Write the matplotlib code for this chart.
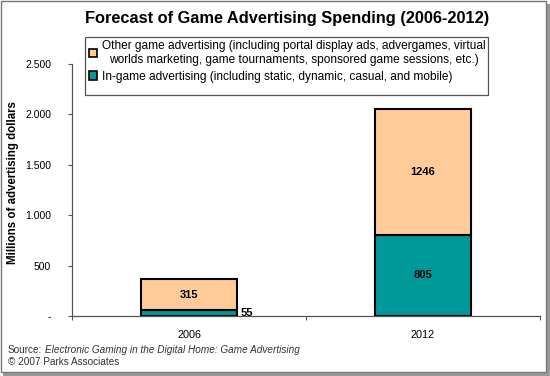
import numpy as np
import matplotlib
matplotlib.use('agg')
import matplotlib.pyplot as plt
from matplotlib.patches import Rectangle

plt.rcParams['font.family'] = ['Liberation Sans', 'DejaVu Sans']

years = ['2006', '2012']
ingame = [55, 805]
other = [315, 1246]
yticks = [0, 500, 1000, 1500, 2000, 2500]
ytick_labels = ['-', '500', '1.000', '1.500', '2.000', '2.500']
label_other = ('Other game advertising (including portal display ads, advergames, virtual\n'
               'worlds marketing, game tournaments, sponsored game sessions, etc.)')
label_ingame = 'In-game advertising (including static, dynamic, casual, and mobile)'

c_teal = '#009999'
c_orange = '#FFCC99'

fig = plt.figure(figsize=(5.5, 3.76), dpi=100)
W, H = 550, 376
ax = fig.add_axes([72 / W, 1 - 316 / H, (540 - 72) / W, (316 - 64) / H])

x = np.arange(len(years))
b1 = ax.bar(x, ingame, width=0.41, color=c_teal, edgecolor='black', linewidth=1.5)
b2 = ax.bar(x, other, width=0.41, bottom=ingame, color=c_orange, edgecolor='black', linewidth=1.5)

ax.set_xlim(-0.5, 1.5)
ax.set_ylim(0, 2500)
ax.set_yticks(yticks)
ax.set_yticklabels(ytick_labels, fontsize=7.5)
ax.set_xticks(x)
ax.set_xticklabels(years, fontsize=7.8)
ax.tick_params(axis='x', length=0, pad=10)
ax.tick_params(axis='y', length=3, width=0.8, color='#555555', pad=12)
ax.set_xticks([-0.5, 0.5, 1.5], minor=True)
ax.tick_params(axis='x', which='minor', length=3, width=0.8, color='#555555')
for s in ['top', 'right']:
    ax.spines[s].set_visible(False)
for s in ['left', 'bottom']:
    ax.spines[s].set_color('#555555')
    ax.spines[s].set_linewidth(0.9)

ax.set_ylabel('Millions of advertising dollars', fontsize=8.3, fontweight='bold')
ax.yaxis.set_label_coords((19 - 72) / 468, 0.53)

# value labels
for i in range(len(years)):
    ax.text(x[i], ingame[i] + other[i] / 2, str(other[i]), ha='center', va='center',
            fontsize=8, fontweight='bold')
ax.text(x[1], ingame[1] / 2, str(ingame[1]), ha='center', va='center',
        fontsize=8, fontweight='bold')
ax.text(x[0] + 0.22, ingame[0] / 2, str(ingame[0]), ha='left', va='center',
        fontsize=8, fontweight='bold')

# legend with its own frame
leg = fig.legend([b2, b1], [label_other, label_ingame], loc='upper left',
                 bbox_to_anchor=(86 / W, 1 - 37 / H), fontsize=8.6, frameon=False,
                 handlelength=0.7, handleheight=0.7, handletextpad=0.4,
                 labelspacing=0.4, borderpad=0.25, borderaxespad=0)
for t in leg.get_texts():
    t.set_multialignment('center')
for h in leg.legend_handles:
    h.set_linewidth(1.2)
fig.patches.append(Rectangle((85 / W, 1 - 95 / H), (488 - 85) / W, (95 - 37) / H,
                             transform=fig.transFigure, facecolor='none',
                             edgecolor='#555555', linewidth=0.9, zorder=3))

fig.text(287 / W, 1 - 18 / H, 'Forecast of Game Advertising Spending (2006-2012)',
         ha='center', va='center', fontsize=11.8, fontweight='bold')

# source line: plain prefix followed by italic title
src = fig.text(8 / W, 1 - 350 / H, 'Source:', ha='left', va='center', fontsize=7.2, color='#333333')
fig.canvas.draw()
bb = src.get_window_extent()
fig.text((bb.x1 + 3) / W, 1 - 350 / H, 'Electronic Gaming in the Digital Home: Game Advertising',
         ha='left', va='center', fontsize=7.2, color='#333333', style='italic')
fig.text(8 / W, 1 - 362 / H, '\u00a9 2007 Parks Associates', ha='left', va='center',
         fontsize=7.2, color='#333333')

# outer frame with shadow
fig.patches.append(Rectangle((3 / W, 0), (W - 3) / W, (H - 4) / H, transform=fig.transFigure,
                             facecolor='#999999', edgecolor='none', zorder=-2))
fig.patches.append(Rectangle((0.5 / W, 4 / H), (W - 4.5) / W, (H - 4.5) / H, transform=fig.transFigure,
                             facecolor='white', edgecolor='#777777', linewidth=1, zorder=-1))

fig.savefig('out.png', dpi=100)
